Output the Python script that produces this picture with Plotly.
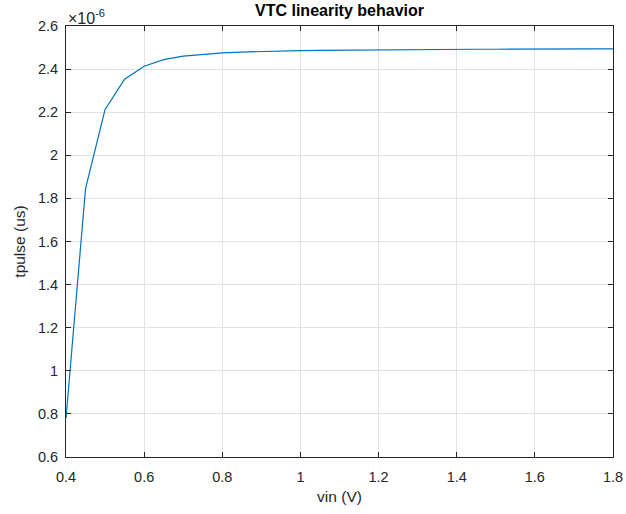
import plotly.graph_objects as go

vin = [0.40, 0.45, 0.50, 0.55, 0.60, 0.65, 0.70, 0.75, 0.80, 0.85, 0.90, 0.95,
       1.00, 1.05, 1.10, 1.15, 1.20, 1.25, 1.30, 1.35, 1.40, 1.45, 1.50, 1.55,
       1.60, 1.65, 1.70, 1.75, 1.80]
tpulse = [0.78e-6, 1.845e-6, 2.213e-6, 2.353e-6, 2.413e-6, 2.444e-6, 2.460e-6, 2.469e-6,
          2.475e-6, 2.479e-6, 2.482e-6, 2.484e-6, 2.486e-6, 2.487e-6, 2.488e-6, 2.489e-6,
          2.490e-6, 2.490e-6, 2.491e-6, 2.491e-6, 2.492e-6, 2.492e-6, 2.492e-6, 2.493e-6,
          2.493e-6, 2.493e-6, 2.494e-6, 2.494e-6, 2.494e-6]
x_ticks = [0.4, 0.6, 0.8, 1.0, 1.2, 1.4, 1.6, 1.8]
x_ticklabels = ["0.4", "0.6", "0.8", "1", "1.2", "1.4", "1.6", "1.8"]
y_ticks = [0.6, 0.8, 1.0, 1.2, 1.4, 1.6, 1.8, 2.0, 2.2, 2.4, 2.6]
y_ticklabels = ["0.6", "0.8", "1", "1.2", "1.4", "1.6", "1.8", "2", "2.2", "2.4", "2.6"]

scale = 1e6
y_plot = [v * scale for v in tpulse]

FONT = "Liberation Sans, Arial"

fig = go.Figure()
fig.add_trace(go.Scatter(x=vin, y=y_plot, mode="lines",
                         line=dict(color="#0072BD", width=1.2), showlegend=False))

axis_common = dict(showline=True, linecolor="#262626", linewidth=1, mirror="ticks",
                   ticks="inside", ticklen=5, tickcolor="#262626", automargin=False,
                   showgrid=True, gridcolor="#e3e3e3", gridwidth=1, zeroline=False,
                   tickfont=dict(family=FONT, size=14.5, color="#262626"))

fig.update_xaxes(range=[0.4, 1.8], tickvals=x_ticks, ticktext=x_ticklabels,
                 ticklabelstandoff=7,
                 title=dict(text="vin (V)", font=dict(family=FONT, size=15.5, color="#262626"), standoff=6),
                 **axis_common)
fig.update_yaxes(range=[0.6, 2.6], tickvals=y_ticks, ticktext=y_ticklabels,
                 ticklabelstandoff=4,
                 title=dict(text="tpulse (us)", font=dict(family=FONT, size=15.5, color="#262626"), standoff=8),
                 **axis_common)

fig.update_layout(
    width=626, height=514,
    margin=dict(l=66, r=13, t=26, b=57),
    paper_bgcolor="white", plot_bgcolor="white",
    title=dict(text="<b>VTC linearity behavior</b>", x=0.5, xanchor="center",
               xref="paper", y=1, yref="container", yanchor="top", pad=dict(t=5),
               font=dict(family=FONT, size=16, color="black")),
)
fig.add_annotation(text="×10<sup>-6</sup>", xref="paper", yref="paper", x=0.0, y=1.0,
                   xanchor="left", yanchor="bottom", showarrow=False, yshift=-3,
                   font=dict(family=FONT, size=16, color="#262626"))

fig.write_html("out.html", config={"displayModeBar": False},
               post_script="document.body.style.margin='0';document.body.style.overflow='hidden';")
